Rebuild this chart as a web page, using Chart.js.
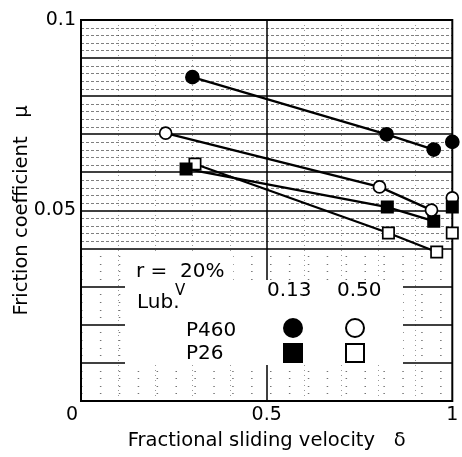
<!DOCTYPE html>
<html lang="en">
<head>
    <meta charset="UTF-8">
    <title>Friction coefficient vs fractional sliding velocity</title>
    <script src="https://cdn.jsdelivr.net/npm/chart.js"></script>
    <style>
        body { margin: 0; background: #fff; }
        .wrap { width: 462px; height: 457px; }
    </style>
</head>
<body>
<div class="wrap"><canvas id="frictionChart"></canvas></div>
<script>
    // values: fractional sliding velocity (delta) and friction coefficient (mu)
    const deltaP460a = [0.30, 0.823, 0.95];   // P460, 0.13
    const muP460a    = [0.085, 0.070, 0.066];
    const deltaP460b = [0.228, 0.804, 0.944]; // P460, 0.50
    const muP460b    = [0.0703, 0.0562, 0.0501];
    const deltaP26a  = [0.283, 0.825, 0.95];  // P26, 0.13
    const muP26a     = [0.0609, 0.0509, 0.0472];
    const deltaP26b  = [0.307, 0.828, 0.958]; // P26, 0.50
    const muP26b     = [0.0622, 0.0441, 0.0391];

    // pure sliding points (delta = 1), not joined to the lines
    const deltaEnd = [1, 1, 1, 1];
    const muEnd    = [0.068, 0.0533, 0.0509, 0.0441]; // P460 .13, P460 .50, P26 .13, P26 .50

    const xTicks = [0, 0.5, 1];
    const yTicks = [0.05, 0.1];

    const FONT = "'DejaVu Sans', Arial, sans-serif";

    function pts(xs, ys) {
        return xs.map((v, i) => ({ x: v, y: ys[i] }));
    }

    function series(label, xs, ys, style, filled, r) {
        return {
            label: label,
            data: pts(xs, ys),
            showLine: true,
            borderColor: '#000',
            borderWidth: 2.3,
            pointStyle: style,
            pointRadius: r,
            pointBackgroundColor: filled ? '#000' : '#fff',
            pointBorderColor: '#000',
            pointBorderWidth: 1.7,
            clip: false
        };
    }

    // graph-paper background, frame and the legend block
    const paperPlugin = {
        id: 'paper',
        beforeDatasetsDraw(chart) {
            const { ctx, chartArea: a, scales: { x, y } } = chart;
            const hline = (py) => { ctx.beginPath(); ctx.moveTo(a.left, py); ctx.lineTo(a.right, py); ctx.stroke(); };
            const vline = (px) => { ctx.beginPath(); ctx.moveTo(px, a.top); ctx.lineTo(px, a.bottom); ctx.stroke(); };
            ctx.save();

            // minor lines: dense dashes in the upper half, sparse dots lower down
            ctx.lineWidth = 1;
            for (let i = 1; i < 50; i++) {
                if (i % 5 === 0) continue;
                if (i > 20) {
                    ctx.strokeStyle = 'rgba(0,0,0,0.5)';
                    ctx.setLineDash([3, 2]);
                } else {
                    ctx.strokeStyle = 'rgba(0,0,0,0.55)';
                    ctx.setLineDash([1.5, 17.4]);
                }
                hline(Math.round(y.getPixelForValue(i * 0.002)) + 0.5);
            }
            ctx.strokeStyle = 'rgba(0,0,0,0.4)';
            ctx.setLineDash([1, 4]);
            for (let i = 1; i < 10; i++) {
                if (i === 5) continue;
                vline(Math.round(x.getPixelForValue(i * 0.1)) + 0.5);
            }

            // major lines
            ctx.setLineDash([]);
            ctx.strokeStyle = '#000';
            ctx.lineWidth = 1.5;
            for (let i = 1; i < 10; i++) hline(Math.round(y.getPixelForValue(i * 0.01)));
            vline(Math.round(x.getPixelForValue(0.5)));

            // white panels behind the legend
            ctx.fillStyle = '#fff';
            ctx.fillRect(a.left + 44, a.top + 231, 108, 31);
            ctx.fillRect(a.left + 44, a.top + 260, 278, 85);

            // legend
            ctx.fillStyle = '#000';
            ctx.textBaseline = 'middle';
            ctx.textAlign = 'left';
            ctx.font = '20px ' + FONT;
            ctx.fillText('r =  20%', a.left + 55, a.top + 252);
            ctx.fillText('Lub.', a.left + 56, a.top + 283);
            ctx.fillText('0.13', a.left + 186, a.top + 271);
            ctx.fillText('0.50', a.left + 256, a.top + 271);
            ctx.fillText('P460', a.left + 105, a.top + 311);
            ctx.fillText('P26', a.left + 105, a.top + 334);
            ctx.font = '15px ' + FONT;
            ctx.fillText('V', a.left + 94, a.top + 271);

            const c1 = a.left + 212, c2 = a.left + 274;
            const r1 = a.top + 308, r2 = a.top + 333;
            ctx.lineWidth = 2;
            ctx.beginPath(); ctx.arc(c1, r1, 10, 0, Math.PI * 2); ctx.fill();
            ctx.beginPath(); ctx.arc(c2, r1, 9, 0, Math.PI * 2); ctx.stroke();
            ctx.fillRect(c1 - 10, r2 - 10, 20, 20);
            ctx.strokeRect(c2 - 9, r2 - 9, 18, 18);

            // frame
            ctx.lineWidth = 2;
            ctx.strokeRect(a.left, a.top, a.width, a.height);
            ctx.restore();
        }
    };

    const ctx = document.getElementById('frictionChart').getContext('2d');
    new Chart(ctx, {
        type: 'scatter',
        data: {
            datasets: [
                series('P460 0.13', deltaP460a, muP460a, 'circle', true, 6.5),
                series('P460 0.50', deltaP460b, muP460b, 'circle', false, 6),
                series('P26 0.13', deltaP26a, muP26a, 'rect', true, 8),
                series('P26 0.50', deltaP26b, muP26b, 'rect', false, 8),
                {
                    label: 'delta = 1',
                    data: pts(deltaEnd, muEnd),
                    showLine: false,
                    pointStyle: ['circle', 'circle', 'rect', 'rect'],
                    pointRadius: [6.5, 6, 8, 8],
                    pointBackgroundColor: ['#000', '#fff', '#000', '#fff'],
                    pointBorderColor: '#000',
                    pointBorderWidth: 1.7,
                    clip: false
                }
            ]
        },
        options: {
            responsive: true,
            maintainAspectRatio: false,
            animation: false,
            layout: { padding: { top: 20, right: 3, left: 0, bottom: 0 } },
            plugins: {
                legend: { display: false },
                tooltip: { enabled: false }
            },
            scales: {
                x: {
                    type: 'linear',
                    min: 0,
                    max: 1,
                    grid: { display: false, drawTicks: false },
                    border: { display: false },
                    afterBuildTicks: s => { s.ticks = xTicks.map(v => ({ value: v })); },
                    afterFit: s => { s.height = 56; s.paddingLeft = 0; s.paddingRight = 0; },
                    ticks: {
                        color: '#000',
                        padding: 3,
                        maxRotation: 0,
                        font: { family: FONT, size: 19 },
                        callback: v => v === 0 ? '0\u2007 ' : String(v)
                    },
                    title: {
                        display: true,
                        text: 'Fractional sliding velocity   δ',
                        color: '#000',
                        font: { family: FONT, size: 19.5 },
                        padding: { top: 0, bottom: 4 }
                    }
                },
                y: {
                    type: 'linear',
                    min: 0,
                    max: 0.1,
                    grid: { display: false, drawTicks: false },
                    border: { display: false },
                    afterBuildTicks: s => { s.ticks = yTicks.map(v => ({ value: v })); },
                    afterFit: s => { s.width = 81; s.paddingTop = 0; s.paddingBottom = 0; },
                    ticks: {
                        color: '#000',
                        padding: 5,
                        font: { family: FONT, size: 19 },
                        callback: v => String(v)
                    },
                    title: {
                        display: true,
                        text: 'Friction coefficient   μ',
                        color: '#000',
                        font: { family: FONT, size: 19.5 },
                        padding: { top: 10, bottom: 0 }
                    }
                }
            }
        },
        plugins: [paperPlugin]
    });
</script>
</body>
</html>
